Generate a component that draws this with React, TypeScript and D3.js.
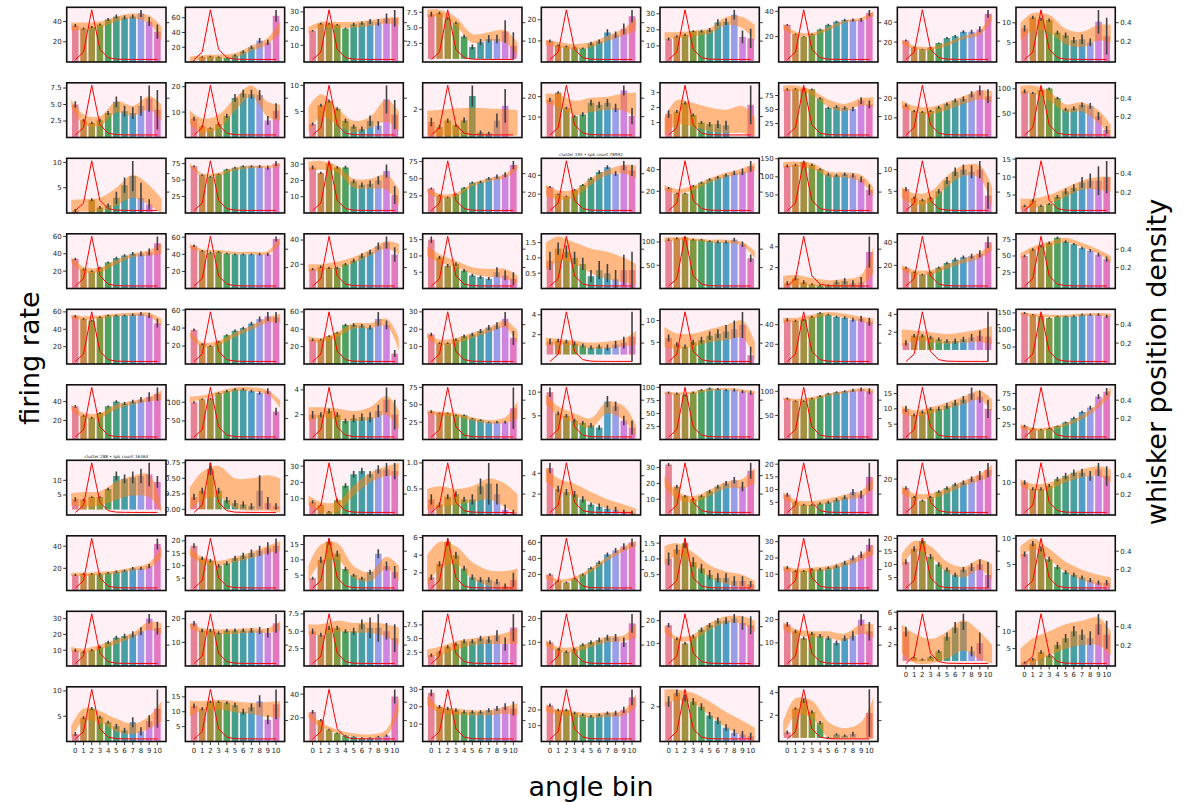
import React from 'react';
import * as d3 from 'd3';

// ---------------- data ----------------
const ANGLE_BINS = [0, 1, 2, 3, 4, 5, 6, 7, 8, 9, 10];
const X_TICK_LABELS = ['0', '1', '2', '3', '4', '5', '6', '7', '8', '9', '10'];
// whisker position density (right axis), same for every panel
const DENSITY = [0.0, 0.08, 0.54, 0.11, 0.02, 0.004, 0.002, 0.001, 0.001, 0.001, 0.001];
const RIGHT_TICKS = [0.2, 0.4];
const RIGHT_TICK_LABELS = ['0.2', '0.4'];
// x positions where the smoothed band was read
const BAND_X = [-0.5, 1, 3, 5, 7, 9, 10.5];

// firing rate per angle bin (bar heights), one row per panel
const FIRING: number[][] = [
  [36, 33, 34.5, 37, 42, 45, 44, 45, 48, 40, 30],
  [1.5, 6.8, 7.5, 6.8, 5.6, 9, 14, 20, 29, 26.5, 62.6],
  [18.7, 23, 22.9, 22.3, 20, 22.5, 23.3, 24.3, 23.7, 26, 26.2],
  [7.2, 7.4, 6.5, 5.8, 3.6, 1.9, 2.7, 3.2, 3.2, 4.4, 2.1],
  [10, 7.9, 7.4, 6.9, 6.5, 8.8, 9.7, 14, 13, 15.7, 21.7],
  [14.3, 16, 16.9, 19.2, 19.2, 19.9, 24.6, 25, 29.4, 15.6, 14.7],
  [29.3, 22, 20, 22, 25.6, 29.3, 31.8, 33.2, 33.2, 33.2, 38.6],
  [21.7, 14.5, 12.8, 14.5, 19, 24, 25.9, 30.3, 30.3, 32.8, 48.3],
  [8.6, 11.4, 10.9, 10.7, 7.5, 6.8, 5.6, 5.8, 5, 10.3, 6.6],
  // row 1
  [5, 2.6, 2.2, 2.6, 3.7, 5.4, 4, 3.7, 4.8, 5.9, 4.2],
  [7.4, 4.4, 3.7, 5.3, 8.5, 15.6, 17.3, 17, 16.7, 6.7, 10.5],
  [2.6, 6.2, 7, 5.5, 3.2, 2.1, 1.6, 3.2, 2.3, 7.3, 4.4],
  [1.1, 0.75, 1.2, 0.87, 1.22, 2.94, 0.35, 0.3, 1.2, 2.24, 0],
  [18.5, 22, 14.5, 10.4, 11.3, 17, 16, 17, 14.5, 23, 10.5],
  [1.57, 1.73, 2.3, 1.5, 1, 0.89, 0.89, 0.82, 0, 0, 2.18],
  [86, 87, 87, 86, 70, 53, 55, 53, 51, 66, 59],
  [16.5, 13.5, 13, 13.5, 15.3, 17, 18.8, 19.6, 22, 24, 21],
  [95, 91.5, 97, 100.7, 81, 58, 60, 67, 65, 44, 15.5],
  // row 2
  [0.5, 0, 2.6, 1.1, 1.5, 3.0, 5.5, 7.3, 3.0, 1.7, 0],
  [71, 57.6, 55, 59, 66, 68.7, 70.8, 70.8, 70.8, 68.7, 75],
  [28, 24.6, 30.4, 28, 28, 19.4, 17.3, 17.9, 20, 25.8, 11],
  [35.7, 25.5, 23, 27.5, 36.7, 44.4, 45.4, 50.5, 53, 56, 70],
  [27.6, 20, 17.6, 24.5, 29.7, 36.6, 43.4, 48.6, 41.7, 50.3, 45.2],
  [23, 18, 18, 25, 28, 31, 33, 35, 37, 38, 43],
  [130, 133, 141, 133, 121, 107, 104, 107, 104, 93, 64],
  [5.5, 3.5, 3, 3.5, 5, 7.5, 9.5, 10, 9.5, 10, 4],
  [2, 3.5, 2, 2.5, 4.5, 6, 7, 8.5, 9, 9, 10],
  // row 3
  [34, 22, 20, 24, 30, 35, 38, 40, 40, 42, 52],
  [50, 44, 42, 43, 41, 40, 40, 40, 40, 40, 58],
  [16, 18, 17, 17, 20, 23, 27, 30, 35, 38, 28],
  [15, 9.5, 7, 7.5, 5.5, 4, 3.5, 3, 5, 4, 3],
  [0.9, 1.3, 1.2, 1.0, 0.8, 0.4, 0.6, 0.5, 0.3, 0.6, 0.6],
  [105, 108, 110, 105, 105, 102, 100, 100, 105, 95, 65],
  [0.5, 1.0, 0.6, 0.4, 0.3, 0.3, 0.6, 0.7, 0.5, 0.6, 3.5],
  [18, 14, 12, 14, 18, 22, 25, 27, 28, 30, 40],
  [50, 60, 65, 70, 78, 72, 68, 62, 58, 52, 45],
  // row 4
  [55, 52, 50, 54, 56, 56, 56, 57, 58, 56, 47],
  [38, 22, 20, 25, 32, 37, 40, 45, 50, 53, 52],
  [28, 28, 32, 36, 45, 45, 44, 42, 52, 45, 12],
  [17, 12, 12, 14, 16, 17, 19, 21, 22, 26, 15],
  [1.3, 1.4, 1.3, 1.1, 0.9, 0.7, 0.8, 0.7, 1.0, 1.2, 1.8],
  [6, 4.5, 4, 5, 5.5, 6.5, 7, 7.5, 8, 9, 2],
  [45, 44, 45, 48, 52, 50, 48, 47, 45, 46, 43],
  [0.8, 1.6, 1.6, 1.4, 1.2, 1.0, 1.0, 1.2, 1.4, 1.6, 1.5],
  [150, 145, 140, 135, 140, 140, 140, 145, 145, 145, 140],
  // row 5
  [35, 25, 23, 28, 35, 40, 38, 40, 42, 45, 48],
  [100, 108, 110, 125, 130, 135, 135, 130, 125, 130, 75],
  [2.0, 2.0, 2.3, 2.0, 1.5, 1.7, 1.8, 1.8, 2.3, 3.2, 2.0],
  [40, 38, 38, 35, 35, 30, 28, 25, 25, 25, 45],
  [10, 5.5, 5, 4, 3.5, 3, 2.5, 8, 7, 4, 2.5],
  [90, 88, 85, 90, 95, 98, 97, 95, 95, 92, 90],
  [85, 80, 80, 85, 90, 95, 98, 100, 102, 104, 100],
  [10, 8, 9, 10, 10, 11, 12, 13, 15, 14, 10],
  [22, 18, 16, 18, 22, 28, 35, 45, 52, 70, 78],
  // row 6
  [3.5, 3.3, 4.3, 4.3, 7, 11.5, 10.5, 11, 11.5, 12, 9.5],
  [0.2, 0.3, 0.65, 0.3, 0.15, 0.1, 0.08, 0.05, 0.3, 0.1, 0.05],
  [8, 6, 2, 9, 18, 25, 27, 25, 28, 28, 27],
  [0.3, 0.2, 0.35, 0.4, 0.3, 0.3, 0.55, 0.6, 0.4, 0.1, 0.05],
  [4.5, 2.5, 2.2, 2, 1.5, 1, 0.8, 0.6, 0.5, 0.3, 0.2],
  [32, 18, 12, 10, 12, 15, 18, 20, 22, 18, 28],
  [8, 5, 4, 4, 4.5, 5, 6, 7, 9, 8, 15],
  [15, 10, 8, 10, 13, 15, 17, 18, 20, 22, 25],
  [10, 8, 8, 9, 11, 12, 13, 13, 12, 14, 12],
  // row 7
  [14, 15, 15, 15, 16, 17, 18, 20, 20, 22, 42],
  [18, 13, 12, 10, 11, 13, 14, 15, 16, 17, 18],
  [4, 10, 16, 12, 7, 5, 4, 6, 12, 8, 6],
  [1.5, 3, 5.5, 4, 2.5, 1.5, 1.2, 1.2, 1, 0.5, 1.2],
  [20, 12, 10, 15, 20, 28, 35, 45, 50, 55, 60],
  [1.0, 1.3, 1.5, 0.9, 0.7, 0.5, 0.4, 0.4, 0.3, 0.3, 0.2],
  [14, 12, 12, 13, 13, 14, 15, 17, 20, 22, 28],
  [11, 16, 19, 13, 10, 8, 6, 8, 9, 10, 6],
  [7, 9, 8, 6, 4.5, 3.5, 3, 2.5, 2, 1.5, 1.5],
  // row 8
  [10, 9, 10, 12, 15, 18, 19, 20, 22, 30, 24],
  [18, 15, 15, 14, 15, 15, 15, 15, 15, 14, 18],
  [5, 4.5, 5.5, 5.5, 5, 5, 6, 5.5, 5.5, 5, 4],
  [2, 2.5, 3.5, 4, 4.5, 4.5, 5, 4.8, 5.5, 4, 7],
  [10, 7, 6, 7, 9, 10, 11, 12, 12, 10, 18],
  [18, 12, 10, 13, 16, 18, 20, 20, 21, 19, 18],
  [18, 15, 12, 14, 13, 12, 10, 12, 13, 20, 15],
  [3.6, 0.45, 0.2, 0.5, 1.2, 3.0, 4.1, 4.8, 1.2, 2.2, 0],
  [1, 2, 4, 3, 6, 8, 10, 9, 8, 12, 9],
  // row 9
  [1.5, 4.7, 6.5, 4.8, 3.8, 3, 2.2, 3.8, 2, 4, 6.5],
  [12, 11, 13.3, 13.3, 13, 12.2, 10, 11.5, 13.5, 7.3, 12.5],
  [25, 18, 10, 7, 5, 4, 3, 3, 4, 5, 38],
  [28, 20, 19, 18, 17, 17, 17, 18, 19, 20, 19],
  [23, 20, 20, 18, 17, 16, 17, 18, 18, 20, 28],
  [2.3, 2.8, 2.5, 2.3, 2, 1.5, 1.2, 0.8, 0.5, 0.4, 0.3],
  [0.5, 2.6, 3.3, 2.3, 1.35, 0.05, 0.3, 0.2, 0.35, 0, 2.2],
];

// half-length of each error bar
const ERRORS: number[][] = [
  [1.5, 1, 1, 1, 1.5, 2, 2, 2, 3.5, 4.5, 7],
  [1, 1, 1, 1, 1, 1.5, 2, 2.5, 3.5, 3.5, 8],
  [0.5, 0.5, 0.5, 0.5, 0.5, 1, 1, 1.5, 2, 3, 5],
  [0.4, 0.2, 0.2, 0.2, 0.3, 0.4, 0.5, 0.6, 0.7, 1.8, 2.2],
  [0.7, 0.4, 0.4, 0.4, 0.4, 0.8, 1, 1.5, 1.5, 2.5, 3],
  [1, 0.7, 0.7, 0.5, 0.8, 1.3, 2, 2, 3, 4, 6],
  [0.7, 0.5, 0.5, 0.5, 0.7, 0.8, 0.8, 1, 1.2, 1.5, 2.5],
  [1, 0.5, 0.5, 0.5, 0.7, 1, 1.2, 1.5, 2, 3, 4],
  [0.8, 0.4, 0.4, 0.4, 0.5, 0.7, 0.8, 1.2, 1, 3, 4.7],
  [0.5, 0.2, 0.2, 0.2, 0.3, 0.8, 0.8, 0.9, 1.5, 2, 3],
  [0.8, 0.3, 0.3, 0.6, 0.8, 1.5, 1.5, 1.8, 2, 1.8, 3],
  [0.3, 0.3, 0.3, 0.3, 0.4, 0.4, 0.5, 1, 0.8, 2.7, 2.8],
  [0.3, 0.15, 0.15, 0.1, 0.2, 0.75, 0.15, 0.1, 0.5, 1.2, 0],
  [1, 0.6, 0.6, 0.6, 1, 1.5, 1.5, 1.8, 2, 2.5, 4],
  [0.25, 0.1, 0.1, 0.1, 0.1, 0.15, 0.25, 0.3, 0, 0, 1.3],
  [2, 1.5, 1.5, 1.5, 2, 2, 2.5, 3, 4, 6, 7],
  [0.8, 0.5, 0.5, 0.5, 0.7, 0.8, 1, 1.2, 1.5, 2.5, 3.5],
  [4, 2, 2, 2, 2.5, 3, 4, 5, 6, 8, 8],
  [0.3, 0, 0.3, 0.3, 0.4, 1.2, 1.5, 3, 3, 1, 0],
  [1.5, 1, 1, 1, 1, 1.5, 1.5, 1.5, 2, 3, 4],
  [1.2, 0.7, 0.7, 0.7, 1, 1.2, 1.5, 2, 2.5, 4, 5.5],
  [1.5, 1, 1, 1, 1.2, 1.5, 1.5, 2, 3, 3.5, 6],
  [1, 0.7, 0.7, 1, 1, 1.5, 2, 2, 2.5, 5, 6],
  [1, 0.7, 0.7, 0.8, 1, 1, 1.2, 1.5, 2, 3, 5],
  [4, 3, 3, 3, 3, 4, 4, 5, 6, 8, 15],
  [0.5, 0.3, 0.3, 0.3, 0.5, 0.8, 1, 1.2, 1.5, 2, 3],
  [0.3, 0.3, 0.3, 0.3, 0.5, 0.8, 1, 1.5, 2, 4, 4.5],
  [1.5, 1, 1, 1, 1, 1.5, 1.5, 2, 3, 4, 8],
  [1.5, 1, 1, 1, 1, 1, 1, 1, 1.5, 2, 3],
  [1, 1, 1, 1, 1, 1.5, 2, 2, 3, 5, 6],
  [1, 0.5, 0.5, 0.5, 0.5, 0.5, 0.5, 0.5, 1.5, 1.5, 2],
  [0.3, 0.2, 0.2, 0.2, 0.2, 0.2, 0.3, 0.3, 0.3, 0.5, 0.6],
  [3, 2, 2, 2, 2, 2, 3, 3, 4, 6, 8],
  [0.2, 0.2, 0.2, 0.1, 0.1, 0.1, 0.2, 0.3, 0.3, 0.5, 1.5],
  [1, 0.7, 0.7, 0.7, 1, 1, 1.5, 1.5, 2, 3, 5],
  [2, 2, 2, 2, 2, 2, 2, 2, 2.5, 3, 4],
  [1.5, 1, 1, 1, 1, 1, 1, 1.5, 2, 3, 5],
  [1.5, 1, 1, 1, 1, 1.5, 1.5, 2, 3, 5, 6],
  [1.5, 1, 1, 1, 1.5, 2, 2, 2.5, 8, 5, 4],
  [1, 0.5, 0.5, 0.7, 1, 1, 1.2, 1.5, 2, 4, 4],
  [0.3, 0.2, 0.2, 0.2, 0.2, 0.2, 0.2, 0.3, 0.4, 0.6, 2.5],
  [0.8, 0.5, 0.5, 0.6, 0.8, 1, 1, 1.5, 2, 3, 2],
  [1.5, 1, 1, 1, 1, 1, 1, 1.5, 2, 3, 4],
  [0.3, 0.2, 0.2, 0.2, 0.2, 0.2, 0.3, 0.3, 0.4, 0.6, 2.8],
  [3, 2, 2, 2, 2, 2, 3, 3, 3, 4, 5],
  [1.5, 1, 1, 1, 1, 1.5, 1.5, 2, 3, 5, 7],
  [3, 2, 2, 2, 3, 3, 3, 4, 5, 8, 10],
  [0.3, 0.2, 0.2, 0.2, 0.2, 0.3, 0.3, 0.4, 0.5, 1, 1.2],
  [2, 1, 1, 1, 1, 1, 1, 1, 1.5, 2, 30],
  [1, 0.4, 0.4, 0.4, 0.4, 0.5, 0.5, 1.2, 1, 1, 1.5],
  [2, 2, 2, 2, 2, 2, 2, 2, 3, 3, 4],
  [2, 1.5, 1.5, 1.5, 2, 2, 2, 2, 3, 4, 6],
  [1, 0.5, 0.5, 0.5, 0.7, 1, 1, 1.2, 2, 2, 3],
  [2, 1, 1, 1, 1, 1.5, 2, 2, 3, 4, 6],
  [0.7, 0.4, 0.3, 0.3, 0.5, 1.5, 1.5, 2, 2.5, 4, 2],
  [0.05, 0.05, 0.1, 0.05, 0.05, 0.05, 0.05, 0.05, 0.25, 0.1, 0.05],
  [1, 0.5, 0.5, 1, 1.5, 2, 2, 2, 2.5, 4, 5],
  [0.1, 0.05, 0.05, 0.05, 0.05, 0.1, 0.15, 0.4, 0.2, 0.1, 0.05],
  [0.5, 0.3, 0.3, 0.3, 0.3, 0.2, 0.3, 0.3, 0.3, 0.2, 0.2],
  [1, 1, 0.7, 0.7, 0.8, 1, 1.2, 1.5, 2, 3, 5],
  [0.8, 0.4, 0.4, 0.4, 0.5, 0.6, 0.7, 0.8, 1.2, 1.5, 5.5],
  [1, 0.6, 0.6, 0.6, 0.8, 1, 1, 1.2, 1.5, 2.5, 4],
  [0.7, 0.5, 0.5, 0.5, 0.7, 1, 1, 1.2, 1.5, 2, 3],
  [1, 0.7, 0.7, 0.7, 0.8, 1, 1, 1.2, 1.5, 2, 5],
  [1, 0.7, 0.7, 0.7, 0.8, 1, 1.2, 1.5, 2, 2.5, 3],
  [0.5, 1, 1, 1, 0.7, 0.5, 0.5, 0.8, 1.5, 1.5, 2],
  [0.3, 0.3, 0.4, 0.4, 0.3, 0.3, 0.3, 0.3, 0.3, 0.3, 0.8],
  [1.5, 1, 1, 1, 1.2, 1.5, 2, 2.5, 3, 4, 5],
  [0.2, 0.15, 0.15, 0.15, 0.15, 0.15, 0.15, 0.15, 0.15, 0.15, 0.1],
  [1, 0.6, 0.6, 0.7, 0.8, 0.8, 1, 1.2, 1.5, 2, 4],
  [1, 1, 1, 1, 0.8, 0.8, 0.8, 1, 1.5, 2, 5],
  [0.5, 0.5, 0.5, 0.5, 0.4, 0.4, 0.4, 0.4, 0.4, 0.4, 0.5],
  [1, 0.7, 0.7, 0.8, 1, 1.2, 1.5, 2, 2.5, 3, 4],
  [1, 0.7, 0.7, 0.7, 0.7, 0.8, 0.8, 1, 1.5, 2, 4],
  [0.4, 0.3, 0.3, 0.3, 0.3, 0.5, 0.7, 1.5, 2.0, 1.2, 2],
  [0.3, 0.3, 0.3, 0.3, 0.4, 0.4, 0.5, 0.6, 1, 1.2, 2.5],
  [0.8, 0.5, 0.5, 0.5, 0.6, 0.8, 1, 1.2, 1.5, 2, 4],
  [1, 0.6, 0.6, 0.8, 1, 1, 1.2, 1.5, 2, 3, 4],
  [1, 0.7, 0.7, 0.7, 0.8, 0.8, 1, 1.2, 2, 2.5, 4],
  [0.6, 0.1, 0.1, 0.15, 0.2, 0.5, 0.7, 1.0, 0.6, 1.3, 0],
  [0.3, 0.4, 0.5, 0.5, 1, 1.2, 1.5, 1.5, 2, 3, 4],
  [0.4, 0.3, 0.3, 0.3, 0.3, 0.5, 0.5, 1, 0.8, 1.2, 3.8],
  [0.8, 0.5, 0.4, 0.4, 0.5, 0.8, 1, 1.3, 2, 1.5, 5],
  [1.5, 1, 0.8, 0.6, 0.5, 0.5, 0.5, 0.5, 0.6, 1, 6],
  [2, 1, 1, 1, 1, 1, 1, 1.2, 1.5, 2, 4],
  [1, 0.8, 0.8, 0.8, 0.8, 0.8, 0.8, 1, 1.5, 2, 5],
  [0.3, 0.2, 0.2, 0.2, 0.2, 0.2, 0.2, 0.2, 0.2, 0.2, 0.2],
  [0.15, 0.1, 0.2, 0.15, 0.15, 0.05, 0.1, 0.1, 0.2, 0, 2.1],
];

// upper / lower edge of the smoothed band, read at BAND_X
const BAND_HI: number[][] = [
  [39, 39, 40, 45, 48, 46, 35], [7, 9, 10, 12, 22, 33, 55], [21, 24, 24, 24, 25, 26.5, 27],
  [7.9, 7.9, 6.7, 4.0, 4.3, 4.6, 2.6], [10.5, 9.5, 8.5, 9.5, 12.5, 16, 21], [18.5, 18.5, 19.5, 21, 28, 28, 23],
  [30, 24, 23, 27.5, 33, 35, 40], [22, 16.5, 15, 19.5, 26, 32, 50], [10, 12.5, 12, 8.5, 7.7, 9.5, 9.5],
  [5.8, 3.5, 3.2, 5.5, 4.8, 6.3, 5], [10.5, 7.5, 9, 15.5, 20.5, 14, 13], [5.8, 8.3, 5.6, 3.2, 4, 7.3, 5],
  [1.9, 1.95, 2.05, 2.1, 2.05, 2.0, 1.95], [21.5, 21, 18, 19.5, 20, 21.5, 22], [1.3, 2.5, 2.3, 2.0, 1.85, 2.1, 1.35],
  [92, 93, 85, 68, 60, 70, 72], [19, 16, 15.5, 18, 21, 24, 23.5], [106, 107, 95, 68, 72, 56, 26],
  [2.6, 2.7, 3.0, 5.0, 7.5, 5.5, 2.8], [75, 60, 61, 69, 72, 72, 76], [31.5, 32, 29, 21, 21, 23.5, 14.5],
  [36, 28, 29, 43, 51, 57, 72], [30, 24, 25, 37, 46, 51, 50], [26, 22, 25, 32, 37, 41, 46],
  [140, 142, 138, 115, 112, 105, 70], [6, 4.5, 5, 8.5, 11, 11, 6], [4, 4, 5, 7, 9, 10, 10],
  [36, 25, 24, 33, 40, 44, 52], [52, 46, 45, 43, 43, 44, 60], [20, 20, 22, 26, 32, 39, 37],
  [13, 10.5, 8.5, 6.5, 6, 6, 4], [1.5, 1.7, 1.5, 1.3, 1.2, 1.0, 0.8], [110, 110, 108, 105, 105, 100, 80],
  [1.2, 1.3, 1.0, 0.8, 0.9, 1.3, 4], [20, 16, 16, 21, 26, 31, 40], [54, 64, 72, 78, 70, 60, 50],
  [57, 55, 56, 58, 59, 59, 52], [35, 24, 26, 35, 43, 52, 56], [32, 30, 37, 47, 47, 52, 30],
  [18, 14, 15, 18, 21, 25, 19], [1.7, 1.6, 1.4, 1.2, 1.3, 1.6, 2.4], [8.5, 7, 7, 8, 9, 10, 5],
  [47, 47, 50, 53, 51, 48, 46], [2.3, 2.2, 2.0, 1.8, 2.0, 2.3, 2.7], [152, 148, 145, 145, 148, 150, 148],
  [37, 28, 28, 37, 41, 45, 52], [115, 118, 130, 140, 140, 132, 105], [2.6, 2.6, 2.5, 2.3, 2.6, 3.5, 2.3],
  [42, 40, 38, 32, 28, 32, 55], [9.5, 7, 5.5, 4.5, 8, 7, 3], [92, 90, 92, 97, 99, 96, 93],
  [87, 84, 88, 95, 101, 106, 104], [11, 9.5, 10.5, 12, 14, 16, 13], [25, 19, 20, 27, 40, 60, 85],
  [5.6, 6, 6.2, 9.5, 11.5, 12, 0.5], [0.35, 0.6, 0.7, 0.5, 0.5, 0.55, 0.5], [12, 8, 8, 18, 26, 30, 32],
  [0.5, 0.55, 0.5, 0.55, 0.7, 0.6, 0.4], [4.5, 3.5, 3, 2.2, 1.5, 1, 0.6], [25, 15, 12, 16, 21, 23, 30],
  [9, 6, 5.5, 6.5, 8, 9.5, 15], [16, 12, 12, 15, 19, 23, 28], [11, 9.5, 10, 12, 14, 15, 14],
  [16, 16, 17, 18, 21, 25, 40], [17, 13.5, 12, 13.5, 15.5, 18, 20], [8, 15, 15.5, 8, 6, 11, 8],
  [4, 5.5, 5, 3.2, 2.3, 2.2, 2.5], [20, 14, 17, 28, 42, 55, 62], [1.4, 1.5, 1.2, 0.8, 0.6, 0.5, 0.3],
  [15, 13.5, 14, 15, 18, 22, 28], [14, 19, 17, 11, 9, 12, 10], [8.5, 10, 8, 5.5, 4, 3, 2.5],
  [12, 11, 13.5, 17, 21, 28, 27], [18, 16, 15.5, 15.5, 16, 16, 19], [6, 6, 6.5, 6.2, 6.3, 6, 5.5],
  [3, 3.5, 4.5, 5, 5.5, 6, 7], [11, 8, 8, 10, 12.5, 13, 18], [18, 13, 14, 19, 22, 22, 20],
  [19, 16, 15, 15, 14, 18, 18], [4.5, 3.4, 2.7, 3.6, 5.0, 3.6, 2.0], [5, 8, 10, 12, 13, 14, 10],
  [3, 6.5, 6, 4.5, 3.5, 5, 8], [13.8, 13.5, 14, 13.5, 13, 13.3, 13.5], [25, 16, 10, 7, 6, 10, 38],
  [26, 20, 19, 18, 18, 20, 22], [23, 20, 19, 18, 18.5, 20, 30], [3, 3, 2.8, 2.3, 1.7, 1.2, 0.8],
  [1.4, 3.5, 3.3, 1.4, 0.85, 1.4, 3.6],
];

const BAND_LO: number[][] = [
  [31, 32, 34, 40, 43, 38, 21], [0, 4, 5, 6, 15, 24, 40], [17, 20.5, 20.5, 20.5, 21.5, 23, 22],
  [6.6, 6.8, 5.3, 2.6, 2.9, 2.6, 0.5], [8, 7, 6, 7, 10, 12.5, 15], [14, 15, 16, 17.5, 23, 21, 13],
  [26, 21, 20.5, 25, 31, 32.5, 36], [18, 13, 12, 16, 23, 27, 42], [5.5, 8, 7.5, 4.5, 3.8, 5.5, 5],
  [4.6, 2, 1.8, 3.8, 3.3, 4.2, 2.5], [5.3, 2, 3.5, 10.5, 16, 8, 6.7], [1, 4, 2.5, 1, 1.8, 3, 1.2],
  [0.15, 0.15, 0.15, 0.15, 0.15, 0.15, 0.15], [17, 15, 11, 12.5, 13.5, 13, 10], [0.1, 0.85, 0.75, 0.4, 0.3, 0.3, 0.1],
  [82, 84, 76, 55, 47, 57, 54], [15, 13, 12, 14, 17, 19.5, 18], [88, 91, 76, 52, 53, 30, 0],
  [0.2, 0.3, 0.5, 1.5, 3.0, 1.5, 0], [70, 56, 57, 65, 68, 68, 70], [26, 26.5, 25, 15.5, 15, 14.5, 4.5],
  [30, 22, 24, 39, 46, 51, 64], [18, 14, 17, 30, 40, 42, 37], [21, 18, 21, 28, 33, 36, 39],
  [125, 128, 122, 100, 98, 85, 45], [3.5, 2, 2.5, 6, 8.5, 8, 1], [1, 1.5, 2.5, 4.5, 6.5, 6.5, 6],
  [30, 19, 19, 28, 36, 38, 40], [47, 43, 42, 40, 40, 40, 52], [14, 15, 17, 21, 27, 33, 28],
  [10, 8, 6.5, 4.5, 3.5, 3, 1], [0.6, 0.9, 0.8, 0.5, 0.3, 0.2, 0.1], [100, 104, 103, 99, 98, 92, 65],
  [0.1, 0.3, 0.2, 0.1, 0.1, 0.2, 1.5], [16, 12, 12, 17, 22, 26, 33], [46, 57, 65, 71, 63, 53, 40],
  [52, 51, 52, 55, 55, 54, 44], [30, 19, 21, 30, 38, 46, 46], [26, 25, 31, 41, 41, 44, 15],
  [15, 11, 12, 15, 18, 21, 12], [0.9, 1.0, 0.9, 0.6, 0.6, 0.8, 1.0], [4, 3.5, 4, 5, 5.5, 6, 1],
  [42, 43, 46, 49, 47, 43, 40], [0.4, 1.0, 0.9, 0.7, 0.8, 0.9, 0.6], [145, 141, 137, 137, 140, 142, 138],
  [31, 23, 23, 32, 37, 40, 42], [100, 108, 120, 130, 130, 120, 85], [1.5, 1.8, 1.6, 1.5, 1.6, 2.0, 0.8],
  [36, 35, 33, 27, 23, 24, 30], [7.5, 5, 3.5, 2.5, 5.5, 4, 0.5], [87, 86, 88, 93, 95, 91, 87],
  [82, 79, 82, 90, 96, 100, 96], [8.5, 7.5, 8.5, 10, 11.5, 13, 9], [18, 14, 16, 22, 33, 52, 72],
  [1.5, 1.1, 1.5, 3.4, 4.8, 4.3, -1], [0.0, 0.15, 0.2, 0.02, -0.02, -0.02, -0.05], [6, 2, 2, 12, 20, 24, 24],
  [0.1, 0.15, 0.2, 0.25, 0.3, 0.15, 0.0], [3.2, 2.3, 1.8, 1.2, 0.6, 0.2, 0], [18, 10, 8, 12, 17, 17, 20],
  [6.5, 4, 3.5, 4.5, 6, 7, 10], [12, 9, 9, 12, 16, 19, 22], [9, 7.5, 8, 10, 11.5, 12, 10],
  [13, 13, 14, 15, 18, 20, 30], [14, 11, 10, 11.5, 13, 15, 16], [3, 9, 10, 4, 3, 7, 3],
  [0.5, 2.5, 3, 1.3, 0.5, 0, 0], [15, 10, 13, 23, 37, 49, 55], [0.8, 1.1, 0.8, 0.4, 0.2, 0.1, 0.0],
  [12, 11, 11.5, 12.5, 15, 18.5, 22], [9, 15, 13, 7, 5, 8, 4], [6, 8, 6, 3.5, 2, 1, 0.5],
  [9, 8.5, 10.5, 14, 18, 23, 20], [16, 14, 13.5, 13.5, 14, 14, 15], [4.5, 4.5, 5, 4.8, 4.8, 4.2, 3],
  [1.5, 2, 3, 3.8, 4, 4, 4], [8.5, 6, 6, 8, 10, 10.5, 12], [15, 11, 11.5, 16, 19, 18.5, 15],
  [16, 13.5, 12.5, 12, 11, 14, 12], [1.0, -0.2, -0.3, 0.3, 1.3, 0.2, -0.3], [0, 1, 3, 5, 6, 6, 3],
  [0.5, 4, 3.8, 2, 1.5, 2.5, 4], [8.5, 10.5, 10.8, 9.8, 9.2, 8.2, 8], [20, 12, 7, 4, 3, 5, 25],
  [21, 16.5, 15.5, 15, 15, 16, 15], [19, 17, 16, 15, 15.5, 16.5, 22], [2, 2.4, 2.2, 1.5, 0.8, 0.3, 0],
  [0.0, 2.0, 1.8, 0.0, -0.1, -0.1, -0.1],
];

// left-axis tick labels of each panel
const Y_TICKS: string[][] = [
  ['20', '40'], ['20', '40', '60'], ['10', '20', '30'], ['2.5', '5.0', '7.5'], ['10', '20'], ['10', '20', '30'], ['20', '40'], ['20', '40'], ['5', '10'],
  ['2.5', '5.0', '7.5'], ['10', '20'], ['5', '10'], ['2'], ['10', '20'], ['1', '2', '3'], ['25', '50', '75'], ['10', '20'], ['50', '100'],
  ['5', '10'], ['25', '50', '75'], ['10', '20', '30'], ['25', '50', '75'], ['20', '40'], ['20', '40'], ['50', '100', '150'], ['5', '10'], ['5', '10', '15'],
  ['20', '40', '60'], ['20', '40', '60'], ['20', '40'], ['5', '10', '15'], ['0.5', '1.0', '1.5'], ['50', '100'], ['2', '4'], ['20', '40', '60'], ['25', '50', '75'],
  ['20', '40', '60'], ['20', '40', '60'], ['20', '40', '60'], ['10', '20', '30'], ['2', '4'], ['5', '10'], ['20', '40'], ['2', '4'], ['50', '100', '150'],
  ['20', '40', '60'], ['50', '100', '150'], ['2', '4'], ['25', '50', '75'], ['5', '10'], ['25', '50', '75', '100'], ['50', '100'], ['5', '10', '15'], ['25', '50', '75'],
  ['5', '10'], ['0.00', '0.25', '0.50', '0.75'], ['10', '20', '30'], ['0.5', '1.0'], ['2', '4'], ['10', '20', '30'], ['5', '10', '15', '20'], ['20', '40'], ['10', '20'],
  ['20', '40'], ['5', '10', '15', '20'], ['5', '10', '15'], ['2', '4', '6'], ['20', '40', '60'], ['0.5', '1.0', '1.5'], ['10', '20', '30'], ['5', '10', '15', '20'], ['5', '10'],
  ['10', '20', '30'], ['10', '20'], ['2.5', '5.0', '7.5'], ['2.5', '5.0', '7.5'], ['10', '20'], ['10', '20'], ['10', '20'], ['2', '4', '6'], ['5', '10'],
  ['5', '10'], ['5', '10', '15'], ['20', '40'], ['10', '20', '30'], ['10', '20'], ['2'], ['2', '4'],
];

const TITLES: Record<number, string> = {
  22: 'cluster 195 \u2022 spk count 78992',
  54: 'cluster 288 \u2022 spk count 16464',
};

const BASE_COLORS = ['#f77189', '#de8632', '#b39b31', '#86a731', '#40b056', '#35ae91', '#37abb4', '#3ba5d9', '#8b93f4', '#d676ee', '#f566c6'];

// ---------------- layout ----------------
const W = 1185;
const H = 802;
const NCOL = 9;
const LEFT0 = 66.7;
const COL_STEP = 118.66;
const TOP0 = 7.3;
const ROW_STEP = 75.5;
const PW = 99.3;
const PH = 54.7;
const FONT = 'DejaVu Sans, Liberation Sans, sans-serif';
const TICK_COLOR = '#262626';

const BAR_COLORS = BASE_COLORS.map((c) => {
  const h = d3.hsl(c);
  h.s *= 0.75;
  return h.formatHex();
});

function Panel({ idx }: { idx: number }) {
  const row = Math.floor(idx / NCOL);
  const col = idx % NCOL;
  const left = LEFT0 + col * COL_STEP;
  const top = TOP0 + row * ROW_STEP;
  const bars = FIRING[idx];
  const errs = ERRORS[idx];
  const hi = BAND_HI[idx];
  const lo = BAND_LO[idx];
  const ticks = Y_TICKS[idx];

  let dMin = 0;
  let dMax = 0;
  bars.forEach((v, i) => {
    dMax = Math.max(dMax, v + errs[i]);
    dMin = Math.min(dMin, v - errs[i]);
  });
  hi.forEach((v) => (dMax = Math.max(dMax, v)));
  lo.forEach((v) => (dMin = Math.min(dMin, v)));
  const range = dMax - dMin;
  const yLo = dMin < 0 ? dMin - 0.05 * range : 0;
  const yHi = dMax + 0.05 * range;

  const x = d3.scaleLinear().domain([-1.05, 11.05]).range([left, left + PW]);
  const y = d3.scaleLinear().domain([yLo, yHi]).range([top + PH, top]);
  const yR = d3.scaleLinear().domain([-0.027, 0.567]).range([top + PH, top]);

  const bandPts = BAND_X.map((bx, i) => [bx, hi[i], lo[i]] as [number, number, number]);
  const area = d3
    .area<[number, number, number]>()
    .x((d) => x(d[0]))
    .y0((d) => y(d[2]))
    .y1((d) => y(d[1]))
    .curve(d3.curveCatmullRom.alpha(0.5));
  const line = d3
    .line<number>()
    .x((_, i) => x(ANGLE_BINS[i]))
    .y((d) => yR(d));

  const clipId = `clip${idx}`;
  const showX = row === 9 || (row === 8 && col >= 7);
  const showRight = col === NCOL - 1;
  const bw = x(0.4) - x(0);
  const visibleTicks = ticks.filter((t) => {
    const v = Number(t);
    return v >= yLo - 1e-9 && v <= yHi + 1e-9;
  });

  return (
    <g>
      <defs>
        <clipPath id={clipId}>
          <rect x={left} y={top} width={PW} height={PH} />
        </clipPath>
      </defs>
      <rect x={left} y={top} width={PW} height={PH} fill="#fff0f5" />
      <g clipPath={`url(#${clipId})`}>
        {bars.map((v, i) => (
          <rect
            key={i}
            x={x(ANGLE_BINS[i]) - bw}
            width={bw * 2}
            y={Math.min(y(v), y(0))}
            height={Math.abs(y(0) - y(v))}
            fill={BAR_COLORS[i]}
          />
        ))}
        <path d={area(bandPts) || ''} fill="#ff7f0e" fillOpacity={0.5} />
        {bars.map((v, i) =>
          errs[i] > 0 ? (
            <line
              key={i}
              x1={x(ANGLE_BINS[i])}
              x2={x(ANGLE_BINS[i])}
              y1={y(v - errs[i])}
              y2={y(v + errs[i])}
              stroke="#424242"
              strokeWidth={1.6}
            />
          ) : null
        )}
        <path d={line(DENSITY) || ''} fill="none" stroke="red" strokeWidth={1} />
      </g>
      <rect x={left} y={top} width={PW} height={PH} fill="none" stroke="#111" strokeWidth={1.6} />
      {visibleTicks.map((t) => {
        const yy = y(Number(t));
        return (
          <g key={t}>
            <line x1={left - 3.5} x2={left} y1={yy} y2={yy} stroke={TICK_COLOR} strokeWidth={0.9} />
            <text x={left - 5} y={yy} dy="0.35em" textAnchor="end" fontSize={7} fontFamily={FONT} fill={TICK_COLOR}>
              {t}
            </text>
          </g>
        );
      })}
      {RIGHT_TICKS.map((t, k) => {
        const yy = yR(t);
        return (
          <g key={k}>
            <line x1={left + PW} x2={left + PW + 3.5} y1={yy} y2={yy} stroke={TICK_COLOR} strokeWidth={0.9} />
            {showRight ? (
              <text x={left + PW + 5} y={yy} dy="0.35em" textAnchor="start" fontSize={7} fontFamily={FONT} fill={TICK_COLOR}>
                {RIGHT_TICK_LABELS[k]}
              </text>
            ) : null}
          </g>
        );
      })}
      {showX
        ? ANGLE_BINS.map((b, i) => (
            <g key={b}>
              <line x1={x(b)} x2={x(b)} y1={top + PH} y2={top + PH + 3.5} stroke={TICK_COLOR} strokeWidth={0.9} />
              <text x={x(b)} y={top + PH + 11} textAnchor="middle" fontSize={7} fontFamily={FONT} fill={TICK_COLOR}>
                {X_TICK_LABELS[i]}
              </text>
            </g>
          ))
        : null}
      {TITLES[idx] ? (
        <text x={left + PW / 2} y={top - 2} textAnchor="middle" fontSize={4.2} fontFamily={FONT} fill={TICK_COLOR}>
          {TITLES[idx]}
        </text>
      ) : null}
    </g>
  );
}

export default function App() {
  return (
    <svg width={W} height={H} style={{ position: 'absolute', left: 0, top: 0, background: '#fff' }}>
      <rect x={0} y={0} width={W} height={H} fill="#fff" />
      {FIRING.map((_, i) => (
        <Panel key={i} idx={i} />
      ))}
      <text x={591} y={796} textAnchor="middle" fontSize={27} fontFamily={FONT} fill="#000">
        angle bin
      </text>
      <text transform="translate(39,358) rotate(-90)" textAnchor="middle" fontSize={27} fontFamily={FONT} fill="#000">
        firing rate
      </text>
      <text transform="translate(1166,362) rotate(-90)" textAnchor="middle" fontSize={27} fontFamily={FONT} fill="#000">
        whisker position density
      </text>
    </svg>
  );
}
